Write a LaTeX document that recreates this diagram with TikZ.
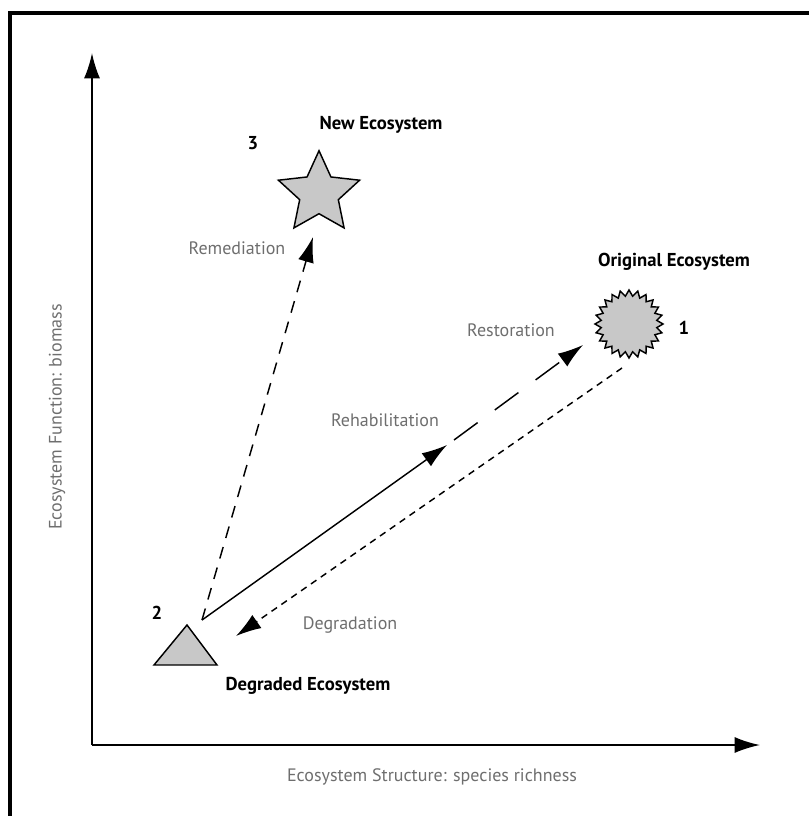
\documentclass[tikz,border=0pt]{standalone}
\usepackage{fontspec}
\setmainfont{PT Sans}
\usetikzlibrary{arrows.meta,shapes.geometric}
\definecolor{labgray}{HTML}{6E6E6E}
\definecolor{shapegray}{HTML}{C8C8C8}
\begin{document}
\begin{tikzpicture}[x=0.75pt,y=-0.75pt,
  lab/.style={text=labgray, font=\fontsize{13.5}{15}\selectfont, inner sep=0pt},
  blab/.style={text=black, font=\bfseries\fontsize{14}{16}\selectfont, inner sep=0pt},
  bigtip/.style={-{Latex[length=19pt,width=12pt]}},
  axis/.style={line width=1.5pt, bigtip},
  conn/.style={line width=1.1pt, bigtip},
  shapefill/.style={fill=shapegray, draw=black, line width=1.1pt}]
\useasboundingbox (0,0) rectangle (809,816);
% frame
\draw[line width=3pt] (10,816) -- (10,13) -- (809,13);
% axes
\coordinate (origin) at (92,745);
\coordinate (ytip) at (92,53);
\coordinate (xtip) at (760,745);
\draw[axis] (origin) -- (ytip);
\draw[axis] (origin) -- (xtip);
\node[lab, rotate=90] (ylab) at (57,417) {Ecosystem Function: biomass};
\node[lab] (xlab) at (432,777) {Ecosystem Structure: species richness};
% new ecosystem (star)
\node[star, star points=5, star point ratio=2.1, minimum size=64pt, inner sep=0pt,
      shapefill] (newe) at (319,193.4) {};
\node[blab] (newlab) at (381,125) {New Ecosystem};
\node[blab] (n3) at (253,143) {3};
% original ecosystem (starburst)
\coordinate (orig) at (629,324);
\draw[shapefill] plot[samples=49, domain=0:48]
   ({629+(31+3*cos(180*\x))*cos(7.5*\x)}, {324+(31+3*cos(180*\x))*sin(7.5*\x)}) -- cycle;
\node[blab] (origlab) at (674,262) {Original Ecosystem};
\node[blab] (n1) at (684,328) {1};
% degraded ecosystem (triangle)
\coordinate (tri) at (187,625);
\draw[shapefill] (tri) -- (217,665) -- (154,665) -- cycle;
\node[blab] (deglab) at (308,686) {Degraded Ecosystem};
\node[blab] (n2) at (157,613) {2};
% connector anchor points
\coordinate (start) at (202,620);
\coordinate (newtip) at (313,237);
\coordinate (rehabtip) at (447,445);
\coordinate (rehabstart) at (454,440);
\coordinate (origtip) at (583,345);
\coordinate (origout) at (622,368);
\coordinate (degtip) at (236,636);
% connectors
\draw[conn, dash pattern=on 9pt off 7pt] (start) -- (newtip);
\draw[conn] (start) -- (rehabtip);
\draw[conn, dash pattern=on 22pt off 16pt] (rehabstart) -- (origtip);
\draw[conn, dash pattern=on 5pt off 4pt] (origout) -- (degtip);
% connector labels
\node[lab] (remlab) at (237,248) {Remediation};
\node[lab] (reslab) at (511,330) {Restoration};
\node[lab] (rehlab) at (385,420) {Rehabilitation};
\node[lab] (dgrlab) at (350,625) {Degradation};
\end{tikzpicture}
\end{document}
